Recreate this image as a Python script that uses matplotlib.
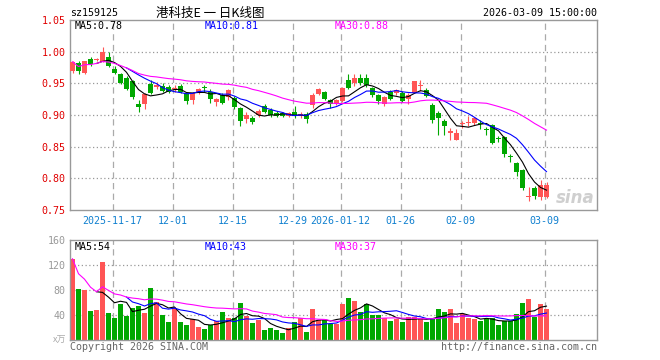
import numpy as np
import pandas as pd
import matplotlib
matplotlib.use("Agg")
import matplotlib.pyplot as plt

# daily K line for sz159125, 2025-11-06 .. 2026-03-09
opens = [0.970, 0.982, 0.967, 0.989, 0.987, 0.984, 0.992, 0.973, 0.965, 0.959,
         0.953, 0.917, 0.918, 0.949, 0.944, 0.946, 0.945, 0.941, 0.946, 0.935,
         0.923, 0.935, 0.944, 0.937, 0.921, 0.931, 0.929, 0.927, 0.911, 0.893,
         0.895, 0.900, 0.915, 0.908, 0.903, 0.903, 0.899, 0.904, 0.899, 0.902,
         0.916, 0.933, 0.936, 0.923, 0.918, 0.922, 0.956, 0.950, 0.958, 0.958,
         0.942, 0.931, 0.917, 0.936, 0.935, 0.935, 0.926, 0.935, 0.946, 0.940,
         0.916, 0.903, 0.890, 0.871, 0.861, 0.886, 0.887, 0.888, 0.888, 0.878,
         0.884, 0.863, 0.866, 0.834, 0.824, 0.813, 0.770, 0.784, 0.771, 0.771]
highs = [0.986, 0.985, 0.985, 0.991, 0.990, 1.008, 1.000, 0.977, 0.966, 0.962,
         0.955, 0.924, 0.935, 0.955, 0.952, 0.951, 0.948, 0.947, 0.949, 0.937,
         0.937, 0.942, 0.947, 0.941, 0.927, 0.934, 0.941, 0.930, 0.913, 0.904,
         0.898, 0.909, 0.917, 0.911, 0.906, 0.905, 0.905, 0.914, 0.905, 0.904,
         0.934, 0.943, 0.938, 0.926, 0.925, 0.944, 0.964, 0.964, 0.964, 0.964,
         0.945, 0.933, 0.930, 0.939, 0.941, 0.938, 0.935, 0.953, 0.955, 0.942,
         0.919, 0.906, 0.894, 0.879, 0.878, 0.891, 0.898, 0.897, 0.892, 0.881,
         0.886, 0.867, 0.867, 0.839, 0.826, 0.815, 0.787, 0.788, 0.797, 0.795]
lows = [0.966, 0.965, 0.965, 0.978, 0.985, 0.983, 0.976, 0.965, 0.949, 0.939,
        0.926, 0.904, 0.910, 0.933, 0.941, 0.936, 0.934, 0.937, 0.934, 0.918,
        0.918, 0.933, 0.937, 0.919, 0.914, 0.917, 0.924, 0.909, 0.883, 0.888,
        0.886, 0.897, 0.903, 0.897, 0.897, 0.897, 0.897, 0.896, 0.896, 0.888,
        0.911, 0.931, 0.923, 0.911, 0.916, 0.920, 0.941, 0.946, 0.947, 0.945,
        0.929, 0.917, 0.915, 0.923, 0.932, 0.920, 0.918, 0.934, 0.938, 0.928,
        0.888, 0.869, 0.868, 0.860, 0.860, 0.880, 0.883, 0.885, 0.878, 0.868,
        0.854, 0.857, 0.833, 0.826, 0.803, 0.781, 0.764, 0.767, 0.766, 0.769]
closes = [0.984, 0.969, 0.985, 0.981, 0.988, 1.000, 0.978, 0.967, 0.951, 0.941,
          0.929, 0.913, 0.933, 0.935, 0.948, 0.938, 0.937, 0.943, 0.937, 0.922,
          0.935, 0.941, 0.943, 0.925, 0.926, 0.919, 0.939, 0.912, 0.891, 0.900,
          0.889, 0.907, 0.905, 0.900, 0.899, 0.898, 0.903, 0.898, 0.902, 0.893,
          0.931, 0.941, 0.926, 0.918, 0.923, 0.942, 0.942, 0.958, 0.950, 0.947,
          0.932, 0.922, 0.928, 0.926, 0.939, 0.922, 0.931, 0.953, 0.947, 0.930,
          0.892, 0.895, 0.882, 0.875, 0.871, 0.887, 0.889, 0.895, 0.886, 0.876,
          0.856, 0.862, 0.838, 0.833, 0.810, 0.785, 0.771, 0.772, 0.790, 0.789]
# volume in 万
volumes = [130, 82, 80, 46, 48, 125, 44, 35, 58, 39,
           51, 55, 43, 83, 61, 40, 29, 51, 29, 24,
           33, 21, 18, 24, 30, 45, 35, 35, 59, 38,
           27, 32, 16, 19, 16, 12, 19, 29, 35, 13,
           50, 32, 32, 25, 25, 57, 68, 62, 45, 57,
           40, 40, 35, 31, 33, 29, 37, 37, 33, 29,
           35, 50, 45, 50, 27, 41, 36, 33, 30, 33,
           35, 24, 30, 30, 41, 60, 66, 37, 58, 50]

date_idx = [7, 17, 27, 37, 45, 55, 65, 79]
date_labels = ["2025-11-17", "12-01", "12-15", "12-29", "2026-01-12", "01-26", "02-09", "03-09"]
price_ticks = [1.05, 1.00, 0.95, 0.90, 0.85, 0.80, 0.75]
vol_ticks = [160, 120, 80, 40]
ma_price_text = ["0.78", "0.81", "0.88"]
ma_vol_text = ["54", "43", "37"]

RED = "#ff5555"
GREEN = "#00a800"
MA_COLORS = ["black", "#0000ff", "#ff00ff"]
GRID = "#aaaaaa"
MONO = "DejaVu Sans Mono"
FS = 7.2

W, H = 660, 360


def px_axes(fig, left, top, right, bottom):
    return fig.add_axes([left / W, 1 - bottom / H, (right - left) / W, (bottom - top) / H])


def style_axes(ax):
    for sp in ax.spines.values():
        sp.set_color("#999999")
        sp.set_linewidth(1.0)
    ax.tick_params(length=0, labelsize=FS)
    for g in date_idx:
        ax.axvline(g - 0.33, color=GRID, lw=0.9, ls=(0, (5, 3.5)), zorder=0)


def moving_averages(values):
    s = pd.Series(values, dtype=float)
    return [s.rolling(5).mean(), s.rolling(10).mean(), s.rolling(30, min_periods=1).mean()]


df = pd.DataFrame({"open": opens, "high": highs, "low": lows, "close": closes, "vol": volumes})
x = np.arange(len(df))
up = df["close"] >= df["open"]
colors = np.where(up, RED, GREEN)

fig = plt.figure(figsize=(W / 100, H / 100), dpi=100)
xlim = ((70 - 72.5) / 6, (597 - 72.5) / 6)

# ---- price panel
ax = px_axes(fig, 70, 20, 597, 210)
style_axes(ax)
ax.set_xlim(*xlim)
ax.set_ylim(0.75, 1.05)
for p in price_ticks[1:-1]:
    ax.axhline(p, color="#999999", lw=0.9, ls=(0, (1, 2)), zorder=0)

ax.vlines(x, df["low"], df["high"], colors=colors, lw=0.8, zorder=2)
body_lo = np.minimum(df["open"], df["close"])
body_h = np.maximum((df["close"] - df["open"]).abs(), 0.0016)
ax.bar(x, body_h, bottom=body_lo, width=0.8, color=colors, lw=0, zorder=3)

for ma, c in zip(moving_averages(closes), MA_COLORS):
    ax.plot(x, ma, color=c, lw=0.8, zorder=4)

ax.set_yticks(price_ticks)
ax.set_yticklabels([f"{p:.2f}" for p in price_ticks], family=MONO, color="#e00000", fontsize=FS)
ax.tick_params(axis="y", pad=3)
ax.set_xticks(np.array(date_idx) - 0.33)
ax.set_xticklabels(date_labels, family=MONO, color="#1080d0", fontsize=FS)
ax.tick_params(axis="x", pad=4)

for xp, name, val, c in zip([75, 205, 335], ["MA5", "MA10", "MA30"], ma_price_text, MA_COLORS):
    fig.text(xp / W, 1 - 26 / H, f"{name}:{val}", family=MONO, fontsize=FS, color=c, va="center")

fig.text(575 / W, 1 - 198 / H, "sina", fontsize=12, style="italic", weight="bold",
         color="#cfcfcf", ha="center", va="center")

# ---- volume panel
axv = px_axes(fig, 70, 240, 597, 340)
style_axes(axv)
axv.set_xlim(*xlim)
axv.set_ylim(0, 160)
for v in vol_ticks[1:]:
    axv.axhline(v, color="#999999", lw=0.9, ls=(0, (1, 2)), zorder=0)
axv.bar(x, df["vol"], width=0.8, color=colors, lw=0, zorder=2)
for ma, c in zip(moving_averages(volumes), MA_COLORS):
    axv.plot(x, ma, color=c, lw=0.8, zorder=4)

axv.set_yticks(vol_ticks)
axv.set_yticklabels([str(v) for v in vol_ticks], family=MONO, color="#999999", fontsize=FS)
axv.tick_params(axis="y", pad=3)
axv.set_xticks([])

for xp, name, val, c in zip([75, 205, 335], ["MA5", "MA10", "MA30"], ma_vol_text, MA_COLORS):
    fig.text(xp / W, 1 - 247 / H, f"{name}:{val}", family=MONO, fontsize=FS, color=c, va="center")

fig.text(66 / W, 1 - 340 / H, "x万", family=["Noto Sans CJK SC", "DejaVu Sans"], fontsize=6.5,
         color="#aaaaaa", style="italic", ha="right", va="center")

# ---- header / footer
fig.text(70 / W, 1 - 13 / H, "sz159125", family=MONO, fontsize=FS, color="black", va="center")
fig.text(210 / W, 1 - 13 / H, "港科技E 一 日K线图", family=["Noto Sans CJK SC", "DejaVu Sans"],
         fontsize=9, color="black", ha="center", va="center")
fig.text(597 / W, 1 - 13 / H, "2026-03-09 15:00:00", family=MONO, fontsize=FS, color="black",
         ha="right", va="center")
fig.text(70 / W, 1 - 347 / H, "Copyright 2026 SINA.COM", family=MONO, fontsize=FS, color="#666666",
         va="center")
fig.text(597 / W, 1 - 347 / H, "http://finance.sina.com.cn", family=MONO, fontsize=FS,
         color="#666666", ha="right", va="center")

fig.savefig("out.png", dpi=100, facecolor="white")
plt.close(fig)
